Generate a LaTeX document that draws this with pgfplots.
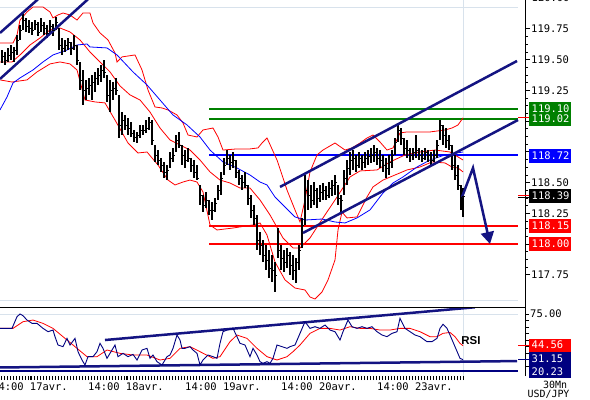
\documentclass[border=0pt]{standalone}
\usepackage{pgfplots}
\pgfplotsset{compat=1.18}
\usepackage{pgfplotstable}
\usepackage{fontspec}
\setmainfont{DejaVu Sans Mono}
\newfontfamily\rsifont{Liberation Sans}
\usetikzlibrary{arrows.meta}
\definecolor{navy}{RGB}{0,0,128}
\definecolor{tl}{RGB}{20,20,130}
\definecolor{gr}{RGB}{0,128,0}
\definecolor{bl}{RGB}{0,0,255}
\definecolor{rd}{RGB}{255,0,0}
\definecolor{gridc}{RGB}{216,226,236}

\pgfplotstableread{
x l h c
2 119.472 119.577 119.529
5 119.456 119.561 119.496
8 119.480 119.594 119.537
11 119.496 119.618 119.561
14 119.480 119.602 119.577
17 119.537 119.699 119.659
20 119.659 119.781 119.740
23 119.740 119.886 119.821
26 119.724 119.838 119.773
29 119.716 119.821 119.756
32 119.699 119.805 119.740
35 119.740 119.821 119.789
38 119.691 119.805 119.724
41 119.724 119.838 119.781
44 119.699 119.805 119.756
47 119.675 119.781 119.716
50 119.708 119.821 119.773
53 119.691 119.789 119.740
56 119.740 119.846 119.805
59 119.577 119.756 119.618
62 119.537 119.675 119.594
65 119.561 119.659 119.618
68 119.577 119.675 119.643
71 119.537 119.643 119.594
74 119.577 119.699 119.618
77 119.456 119.618 119.496
80 119.252 119.480 119.334
83 119.130 119.415 119.252
86 119.171 119.334 119.269
89 119.212 119.350 119.293
92 119.171 119.374 119.317
95 119.236 119.399 119.350
98 119.293 119.431 119.374
101 119.317 119.456 119.415
104 119.350 119.496 119.399
107 119.155 119.374 119.212
110 119.073 119.334 119.252
113 119.171 119.317 119.269
116 119.212 119.350 119.252
119 118.862 119.212 118.968
122 118.886 119.073 119.008
125 118.927 119.049 118.968
128 118.886 119.025 118.943
131 118.870 118.992 118.903
134 118.829 118.927 118.870
137 118.821 118.911 118.886
140 118.862 118.968 118.927
143 118.886 118.968 118.927
146 118.903 119.008 118.943
149 118.927 119.033 118.992
152 118.805 119.008 118.846
155 118.667 118.805 118.724
158 118.642 118.764 118.683
161 118.586 118.699 118.642
164 118.537 118.667 118.586
167 118.520 118.642 118.602
170 118.618 118.748 118.699
173 118.667 118.781 118.724
176 118.748 118.886 118.846
179 118.781 118.911 118.805
182 118.642 118.805 118.724
185 118.618 118.764 118.683
188 118.667 118.781 118.699
191 118.586 118.699 118.642
194 118.537 118.683 118.586
197 118.520 118.642 118.537
200 118.317 118.480 118.398
203 118.260 118.398 118.317
206 118.293 118.423 118.358
209 118.236 118.358 118.277
212 118.195 118.342 118.277
215 118.260 118.374 118.334
218 118.358 118.480 118.439
221 118.398 118.586 118.537
224 118.561 118.699 118.642
227 118.642 118.764 118.699
230 118.602 118.724 118.667
233 118.618 118.748 118.683
236 118.537 118.683 118.586
239 118.480 118.602 118.537
242 118.439 118.561 118.504
245 118.455 118.586 118.480
248 118.317 118.480 118.374
251 118.212 118.398 118.277
254 118.155 118.317 118.212
257 117.951 118.236 118.033
260 117.911 118.098 117.992
263 117.854 118.033 117.911
266 117.789 117.992 117.870
269 117.724 117.951 117.805
272 117.691 117.911 117.789
275 117.610 117.854 117.748
278 117.886 118.130 117.951
281 117.789 117.992 117.886
284 117.773 117.951 117.854
287 117.805 117.968 117.911
290 117.748 117.935 117.830
293 117.707 117.911 117.789
296 117.683 117.886 117.854
299 117.789 117.992 117.951
302 117.968 118.212 118.155
305 118.155 118.561 118.439
308 118.277 118.520 118.398
311 118.293 118.480 118.358
314 118.317 118.504 118.439
317 118.293 118.455 118.374
320 118.342 118.480 118.423
323 118.358 118.496 118.439
326 118.358 118.472 118.398
329 118.374 118.504 118.455
332 118.390 118.520 118.480
335 118.398 118.561 118.504
338 118.317 118.480 118.374
341 118.260 118.398 118.358
344 118.398 118.602 118.537
347 118.480 118.683 118.618
350 118.561 118.748 118.683
353 118.602 118.764 118.699
356 118.586 118.724 118.642
359 118.618 118.748 118.699
362 118.602 118.724 118.667
365 118.618 118.748 118.699
368 118.642 118.764 118.716
371 118.659 118.781 118.724
374 118.667 118.805 118.748
377 118.642 118.781 118.699
380 118.618 118.764 118.683
383 118.586 118.724 118.642
386 118.537 118.699 118.618
389 118.561 118.724 118.667
392 118.618 118.764 118.724
395 118.724 118.862 118.829
398 118.829 118.968 118.927
401 118.805 118.943 118.862
404 118.724 118.862 118.781
407 118.699 118.846 118.764
410 118.667 118.781 118.724
413 118.683 118.781 118.748
416 118.699 118.886 118.764
419 118.683 118.781 118.724
422 118.667 118.764 118.699
425 118.683 118.781 118.748
428 118.667 118.764 118.724
431 118.642 118.748 118.683
434 118.667 118.764 118.724
437 118.699 118.846 118.805
440 118.846 119.008 118.968
443 118.805 118.968 118.886
446 118.781 118.943 118.846
449 118.764 118.886 118.805
452 118.602 118.805 118.642
455 118.520 118.724 118.561
458 118.439 118.642 118.480
461 118.277 118.480 118.317
463 118.220 118.455 118.390
}\bars

\pgfplotstableread{
x y
0 119.634
13 119.634
17 119.699
20 119.821
27 119.886
33 119.927
43 119.927
50 119.886
53 119.838
58 119.862
63 119.878
70 119.862
77 119.821
83 119.878
90 119.878
93 119.797
100 119.716
108 119.659
115 119.553
117 119.480
122 119.521
135 119.537
142 119.415
148 119.252
155 119.114
162 119.106
168 119.090
177 119.049
183 118.984
188 118.886
197 118.870
203 118.927
213 118.943
218 118.870
223 118.764
237 118.773
250 118.773
258 118.781
262 118.821
267 118.862
277 118.683
287 118.439
295 118.277
300 118.179
305 118.358
310 118.586
317 118.724
323 118.764
335 118.821
345 118.764
352 118.781
360 118.821
367 118.862
373 118.886
380 118.829
387 118.764
393 118.781
400 118.903
407 118.911
430 118.911
445 118.927
452 118.943
458 118.968
463 119.025
}\bbup

\pgfplotstableread{
x y
0 119.480
12 119.480
20 119.537
30 119.618
40 119.675
50 119.740
60 119.756
70 119.724
80 119.659
90 119.561
100 119.480
110 119.399
120 119.285
130 119.212
140 119.171
150 119.073
160 118.943
170 118.846
180 118.805
190 118.764
200 118.683
210 118.586
220 118.520
230 118.496
240 118.455
250 118.455
260 118.358
270 118.236
283 118.049
293 117.968
300 117.968
310 118.049
323 118.212
337 118.382
350 118.545
360 118.594
377 118.602
390 118.667
405 118.724
420 118.748
435 118.764
450 118.748
463 118.683
}\bbmid

\pgfplotstableread{
x y
0 119.334
12 119.317
27 119.334
37 119.399
50 119.464
60 119.480
70 119.464
77 119.415
85 119.171
95 119.155
105 119.147
115 119.008
128 118.821
138 118.740
147 118.748
158 118.642
168 118.520
175 118.480
183 118.504
190 118.520
197 118.504
203 118.423
210 118.155
217 118.114
233 118.130
253 118.155
260 118.171
267 118.073
275 117.854
285 117.708
295 117.642
305 117.626
310 117.569
315 117.553
322 117.610
328 117.708
335 117.870
338 118.114
342 118.260
347 118.212
357 118.220
367 118.382
373 118.464
383 118.520
407 118.602
420 118.626
432 118.667
445 118.659
452 118.626
458 118.618
463 118.586
}\bblow

\pgfplotstableread{
x y
0 119.090
7 119.195
13 119.309
20 119.350
33 119.415
43 119.480
53 119.537
67 119.577
77 119.618
87 119.626
90 119.602
107 119.594
117 119.537
133 119.399
147 119.293
160 119.171
173 119.049
187 118.968
200 118.870
210 118.764
223 118.667
237 118.618
250 118.561
260 118.504
267 118.480
275 118.382
285 118.301
295 118.220
305 118.195
322 118.203
335 118.179
345 118.171
357 118.212
370 118.277
383 118.415
393 118.496
403 118.545
417 118.626
430 118.683
445 118.724
463 118.748
}\mavg

\pgfplotstableread{
x y
0 61.2
12 61.2
17 72.4
20 75.0
23 73.4
27 69.2
32 66.0
37 66.0
43 61.2
48 58.0
53 59.6
55 53.2
58 45.2
63 43.6
67 51.6
70 45.2
75 51.6
78 38.8
82 30.8
85 26.0
88 34.0
93 34.0
97 38.8
100 46.8
103 42.0
107 32.4
112 40.4
115 45.2
118 34.0
123 37.2
128 34.0
133 36.2
137 30.8
142 40.4
147 42.0
150 32.4
153 35.6
157 29.2
162 26.0
167 34.0
170 35.6
173 42.0
177 54.8
180 50.0
182 42.0
185 42.0
190 43.6
193 40.4
197 37.2
200 26.0
203 30.8
208 35.6
213 34.0
217 32.4
220 46.8
223 58.0
227 59.6
233 61.2
237 53.2
240 46.8
245 45.2
250 34.0
253 42.0
257 35.6
260 29.2
263 27.6
267 29.2
270 27.6
273 32.4
277 45.2
282 43.6
287 42.0
290 43.6
295 45.2
300 56.4
305 67.6
310 61.2
315 62.8
320 61.2
325 64.4
330 59.6
335 58.0
340 50.0
343 58.0
348 69.2
352 62.8
357 61.2
362 62.8
367 61.2
372 62.8
377 58.0
382 54.8
387 53.2
392 56.4
397 58.0
400 70.9
405 61.2
410 58.0
415 54.8
420 53.2
427 48.4
432 48.4
437 51.6
440 61.2
443 65.1
447 61.2
450 54.8
455 43.6
460 32.4
463 31.15
}\rsidata

\pgfplotstableread{
x y
0 61.2
13 61.2
23 67.6
33 69.2
43 66.0
53 61.2
67 50.0
77 42.0
87 34.0
97 34.0
107 40.4
120 37.2
133 35.6
147 35.6
160 30.8
170 32.4
180 42.0
190 43.6
200 38.8
213 32.4
220 34.0
230 48.4
237 54.8
247 51.6
257 42.0
267 34.0
277 30.8
287 34.0
293 38.8
300 45.2
310 56.4
320 61.2
330 61.2
340 59.6
350 62.8
360 61.2
370 61.2
380 59.6
390 59.6
400 61.2
410 61.2
420 58.0
430 53.2
437 53.2
443 56.4
450 57.3
455 53.2
460 46.8
463 44.56
}\rsisignal

\pgfplotsset{
  tick label style={font=\fontsize{10.5}{12}\selectfont},
}

\begin{document}
\begin{tikzpicture}
\useasboundingbox (0bp,0bp) rectangle (590bp,-400bp);
% light background guide lines
\draw[gridc, line width=1bp] (463bp,0bp) -- (463bp,-378bp);
\draw[gridc, line width=1bp] (0bp,-7bp) -- (518bp,-7bp);
\draw[gridc, line width=1bp] (0bp,-300bp) -- (518bp,-300bp);
\draw[gridc, line width=1bp] (0bp,-314bp) -- (518bp,-314bp);

\begin{axis}[
  at={(0bp,0bp)}, anchor=north west, scale only axis,
  width=525bp, height=300bp,
  xmin=0, xmax=525, ymin=117.5447, ymax=119.9837,
  axis x line=none, axis y line*=right,
  axis line style={black, line width=0.8bp},
  ytick={117.75,118.00,118.25,118.50,118.75,119.00,119.25,119.50,119.75},
  yticklabels={117.75,{},118.25,118.50,{},{},119.25,119.50,119.75},
  minor y tick num=3,
  tick align=outside, major tick length=5bp, minor tick length=3bp,
  tick style={black, line width=0.6bp},
  yticklabel style={inner xsep=1bp},
]
\addplot[gr, line width=2bp] coordinates {(209,119.10) (518,119.10)};
\addplot[gr, line width=2bp] coordinates {(209,119.02) (518,119.02)};
\addplot[bl, line width=2bp] coordinates {(209,118.72) (518,118.72)};
\addplot[rd, line width=2bp] coordinates {(209,118.15) (518,118.15)};
\addplot[rd, line width=2bp] coordinates {(209,118.00) (518,118.00)};

\addplot[rd, line width=0.8bp] table[x=x,y=y] {\bbup};
\addplot[rd, line width=0.8bp] table[x=x,y=y] {\bbmid};
\addplot[rd, line width=0.8bp] table[x=x,y=y] {\bblow};
\addplot[bl, line width=0.8bp] table[x=x,y=y] {\mavg};

\addplot[only marks, mark=-, mark size=1.5bp, mark options={black, line width=0.8bp},
  error bars/.cd, y dir=both, y explicit, error mark=none,
  error bar style={black, line width=1.1bp}]
  table[x=x, y=c, y error plus expr=\thisrow{h}-\thisrow{c}, y error minus expr=\thisrow{c}-\thisrow{l}] {\bars};

\addplot[tl, line width=2.5bp] coordinates {(0,119.716) (38,119.990)};
\addplot[tl, line width=2.5bp] coordinates {(0,119.342) (88,119.990)};
\addplot[tl, line width=2.5bp] coordinates {(280,118.464) (517,119.488)};
\addplot[tl, line width=2.5bp] coordinates {(303,118.090) (518,119.008)};
\addplot[tl, line width=2.5bp, -{Triangle[length=12bp,width=13bp]}] coordinates {(462,118.382) (473,118.618) (490,118.000)};
\end{axis}

\begin{axis}[
  at={(0bp,-307bp)}, anchor=north west, scale only axis,
  width=525bp, height=69bp,
  xmin=0, xmax=525, ymin=15.42, ymax=81.73,
  axis x line*=bottom, axis y line*=right,
  x axis line style={draw=none},
  y axis line style={black, line width=0.8bp},
  xtick={30,126,223,319,415},
  xticklabels={14:00 17avr.,14:00 18avr.,14:00 19avr.,14:00 20avr.,14:00 23avr.},
  minor xtick={1,4,...,463},
  ytick={25,50,75}, yticklabels={{},{},75.00}, minor y tick num=3,
  tick align=outside, major tick length=4bp, minor tick length=4bp,
  tick style={black, line width=0.6bp},
  yticklabel style={inner xsep=1bp},
  xticklabel style={inner ysep=3bp},
]
\addplot[navy, line width=2bp] coordinates {(0,20.23) (518,20.23)};
\addplot[tl, line width=2.5bp] coordinates {(105,50.0) (475,81.5)};
\addplot[tl, line width=2.5bp] coordinates {(0,23.6) (517,29.8)};
\addplot[rd, line width=0.8bp] table[x=x,y=y] {\rsisignal};
\addplot[navy, line width=0.9bp] table[x=x,y=y] {\rsidata};
\end{axis}

\draw[black, line width=0.8bp] (0bp,-307bp) -- (525bp,-307bp);
\draw[black, line width=0.8bp] (525bp,-300bp) -- (525bp,-307bp);

% value boxes
\fill[gr] (529bp,-102bp) rectangle (571bp,-126bp);
\fill[bl] (529bp,-148.5bp) rectangle (571bp,-163bp);
\fill[black] (529bp,-188.5bp) rectangle (571bp,-203bp);
\fill[rd] (529bp,-219bp) rectangle (571bp,-233bp);
\fill[rd] (529bp,-237bp) rectangle (571bp,-251bp);
\fill[rd] (529bp,-338.5bp) rectangle (571bp,-351.5bp);
\fill[navy] (529bp,-351.5bp) rectangle (571bp,-365bp);
\fill[navy] (529bp,-365bp) rectangle (571bp,-378bp);
\draw[rd, line width=1bp] (518bp,-117.3bp) -- (529bp,-117.3bp);
\draw[rd, line width=1bp] (518bp,-195bp) -- (529bp,-195bp);
\draw[black, line width=1bp] (518bp,-197.5bp) -- (529bp,-197.5bp);
\draw[rd, line width=1bp] (518bp,-345bp) -- (529bp,-345bp);
\draw[navy, line width=1bp] (518bp,-359bp) -- (529bp,-359bp);

\begin{scope}[every node/.style={anchor=west, inner sep=0pt, text=white, font=\fontsize{10.5}{12}\selectfont}]
\node at (531.5bp,-108.7bp) {119.10};
\node at (531.5bp,-118.9bp) {119.02};
\node at (531.5bp,-155.7bp) {118.72};
\node at (531.5bp,-195.7bp) {118.39};
\node at (531.5bp,-226bp) {118.15};
\node at (531.5bp,-244bp) {118.00};
\node at (531.5bp,-345bp) {44.56};
\node at (531.5bp,-358.3bp) {31.15};
\node at (531.5bp,-371.5bp) {20.23};
\end{scope}
\node[anchor=west, inner sep=0pt, font=\fontsize{10.5}{12}\selectfont] at (531.5bp,2bp) {120.00};
\node[font=\rsifont\bfseries\fontsize{11.5}{12}\selectfont] at (471bp,-341bp) {RSI};
\node[font=\fontsize{10}{11}\selectfont, inner sep=0pt] at (555bp,-384.5bp) {30Mn};
\node[font=\fontsize{10}{11}\selectfont, inner sep=0pt] at (548.5bp,-394.5bp) {USD/JPY};
\end{tikzpicture}
\end{document}
